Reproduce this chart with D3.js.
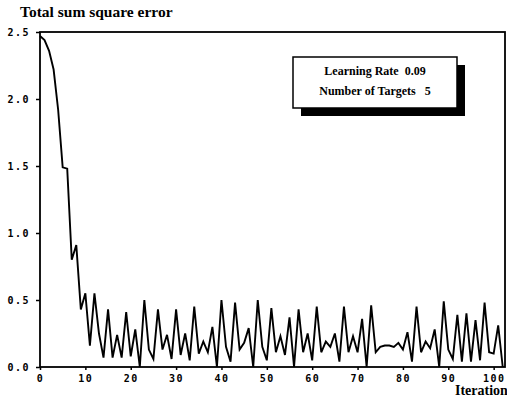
<!DOCTYPE html>
<html>
<head>
<meta charset="utf-8">
<script src="https://cdn.jsdelivr.net/npm/d3@7"></script>
<style>
  body { margin: 0; background: #fff; overflow: hidden; }
  .tick text { font-family: "DejaVu Sans Mono", monospace; font-weight: bold; font-size: 10px; letter-spacing: 1.5px; }
</style>
</head>
<body>
<div id="chart-area"></div>
<script>
// total sum square error per iteration
const errors = [
  2.47, 2.44, 2.36, 2.22, 1.92, 1.49, 1.48, 0.80, 0.91, 0.43,
  0.55, 0.16, 0.55, 0.25, 0.07, 0.43, 0.07, 0.24, 0.07, 0.41,
  0.08, 0.28, 0.00, 0.50, 0.13, 0.06, 0.43, 0.13, 0.24, 0.06,
  0.43, 0.09, 0.25, 0.05, 0.45, 0.10, 0.19, 0.11, 0.30, 0.00,
  0.50, 0.15, 0.04, 0.48, 0.13, 0.18, 0.29, 0.00, 0.50, 0.15,
  0.05, 0.44, 0.11, 0.23, 0.09, 0.37, 0.00, 0.43, 0.11, 0.25,
  0.05, 0.45, 0.11, 0.19, 0.15, 0.25, 0.04, 0.45, 0.11, 0.23,
  0.11, 0.36, 0.00, 0.46, 0.11, 0.15, 0.16, 0.16, 0.15, 0.18,
  0.13, 0.26, 0.04, 0.45, 0.11, 0.19, 0.14, 0.28, 0.00, 0.49,
  0.13, 0.06, 0.39, 0.04, 0.40, 0.04, 0.35, 0.05, 0.48, 0.11,
  0.10, 0.31, 0.00
]
const iterations = errors.map((d, i) => i)

const xTicks = [0, 10, 20, 30, 40, 50, 60, 70, 80, 90, 100]
const yTicks = [0, 0.5, 1.0, 1.5, 2.0, 2.5]
const legendLines = ["Learning Rate  0.09", "Number of Targets   5"]

const W = 507, H = 403
const MARGIN = { LEFT: 40, RIGHT: 2, TOP: 32, BOTTOM: 36 }
const WIDTH = W - MARGIN.LEFT - MARGIN.RIGHT
const HEIGHT = H - MARGIN.TOP - MARGIN.BOTTOM

const svg = d3.select("#chart-area").append("svg")
    .attr("width", W)
    .attr("height", H)

const g = svg.append("g")
    .attr("transform", `translate(${MARGIN.LEFT},${MARGIN.TOP})`)

const x = d3.scaleLinear().domain([0, 102.5]).range([0, WIDTH])
const y = d3.scaleLinear().domain([0, 2.5]).range([HEIGHT, 0])

// y axis
const yAxis = g.append("g")
    .call(d3.axisLeft(y).tickValues(yTicks).tickSize(4).tickPadding(6).tickFormat(d3.format(".1f")))
yAxis.select(".domain").remove()
yAxis.selectAll("line").attr("stroke-width", 1.5)
yAxis.selectAll("text").attr("dy", "0.35em")

// x axis
const xAxis = g.append("g")
    .attr("transform", `translate(0,${HEIGHT})`)
    .call(d3.axisBottom(x).tickValues(xTicks).tickSize(3).tickPadding(5))
xAxis.select(".domain").remove()
xAxis.selectAll("line").attr("stroke-width", 1.5)

// frame
g.append("rect")
    .attr("x", 0).attr("y", 0)
    .attr("width", WIDTH).attr("height", HEIGHT)
    .attr("fill", "none")
    .attr("stroke", "black")
    .attr("stroke-width", 1.8)

// error line
const line = d3.line()
    .x((d, i) => x(iterations[i]))
    .y(d => y(d))

g.append("path")
    .datum(errors)
    .attr("d", line)
    .attr("fill", "none")
    .attr("stroke", "black")
    .attr("stroke-width", 1.9)
    .attr("stroke-linejoin", "miter")

// titles
svg.append("text")
    .attr("x", 20).attr("y", 17)
    .attr("font-family", "Liberation Serif, serif")
    .attr("font-weight", "bold")
    .attr("font-size", "15.5px")
    .text("Total sum square error")

svg.append("text")
    .attr("x", 455).attr("y", 395)
    .attr("font-family", "Liberation Serif, serif")
    .attr("font-weight", "bold")
    .attr("font-size", "14px")
    .text("Iteration")

// legend box with drop shadow
const box = { x: 293, y: 57, w: 164, h: 51 }
svg.append("rect")
    .attr("x", box.x + 8).attr("y", box.y + 8)
    .attr("width", box.w).attr("height", box.h)
    .attr("fill", "black")
svg.append("rect")
    .attr("x", box.x).attr("y", box.y)
    .attr("width", box.w).attr("height", box.h)
    .attr("fill", "white")
    .attr("stroke", "black")
    .attr("stroke-width", 1.5)

svg.selectAll(".legend-text")
    .data(legendLines)
    .enter().append("text")
    .attr("class", "legend-text")
    .attr("x", box.x + box.w / 2)
    .attr("y", (d, i) => box.y + 18 + i * 20)
    .attr("text-anchor", "middle")
    .attr("font-family", "Liberation Serif, serif")
    .attr("font-weight", "bold")
    .attr("font-size", "12px")
    .attr("xml:space", "preserve")
    .style("white-space", "pre")
    .text(d => d)
</script>
</body>
</html>
